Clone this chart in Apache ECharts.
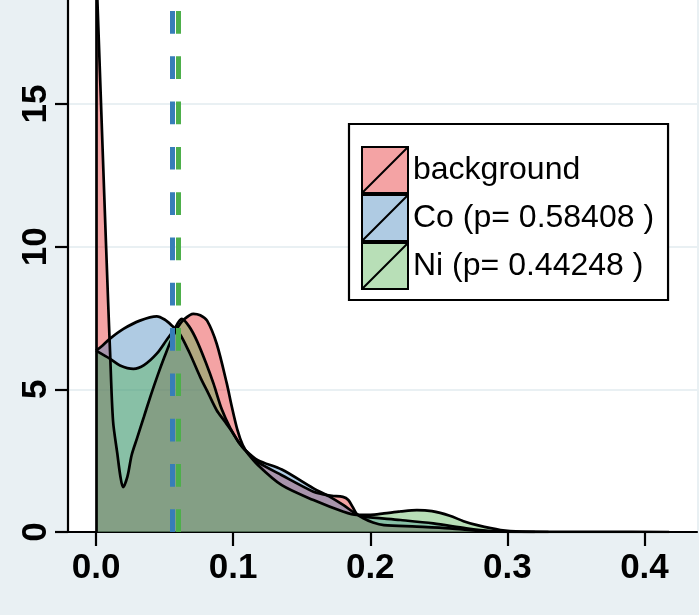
<!DOCTYPE html>
<html><head><meta charset="utf-8">
<script src="https://cdn.jsdelivr.net/npm/echarts@6/dist/echarts.min.js"></script>
<style>html,body{margin:0;padding:0;background:#E9F0F3;} #c{width:699px;height:615px;}</style>
</head><body><div id="c"></div>
<script>
// ---- data ----
const seriesNames = ['background', 'Co (p= 0.58408 )', 'Ni (p= 0.44248 )'];

const bgX = [0, 0.003, 0.006, 0.0088, 0.0102, 0.0124, 0.0155, 0.0178, 0.0197, 0.0229, 0.026, 0.03, 0.035, 0.04, 0.045, 0.05, 0.055, 0.06, 0.064, 0.071, 0.076, 0.081, 0.088, 0.0954, 0.099, 0.103, 0.107, 0.111, 0.118, 0.1355, 0.1586, 0.165, 0.172, 0.18, 0.184, 0.1875, 0.19, 0.195, 0.202, 0.21, 0.234, 0.258, 0.282, 0.3, 0.33, 0.37, 0.418];
const bgY = [20.0, 15.9, 11.8, 8.1, 6.36, 3.9, 2.76, 1.94, 1.57, 1.94, 2.7, 3.3, 4.05, 4.8, 5.5, 6.15, 6.75, 7.2, 7.45, 7.65, 7.6, 7.41, 6.6, 5.2, 4.4, 3.6, 3.05, 2.75, 2.45, 1.99, 1.41, 1.33, 1.27, 1.23, 1.12, 0.85, 0.64, 0.48, 0.33, 0.24, 0.19, 0.13, 0.03, 0.01, 0.004, 0.002, 0];

const coX = [0, 0.005, 0.0102, 0.02, 0.032, 0.0443, 0.05, 0.0552, 0.061, 0.068, 0.076, 0.082, 0.088, 0.0935, 0.0985, 0.104, 0.109, 0.118, 0.1355, 0.1586, 0.17, 0.1805, 0.19, 0.195, 0.222, 0.246, 0.27, 0.288, 0.3, 0.32];
const coY = [6.36, 6.55, 6.78, 7.12, 7.41, 7.56, 7.45, 7.24, 6.95, 6.3, 5.43, 4.85, 4.27, 3.9, 3.57, 3.15, 2.87, 2.52, 2.19, 1.53, 1.25, 0.94, 0.62, 0.54, 0.42, 0.30, 0.13, 0.03, 0.005, 0];

const niX = [0, 0.005, 0.01, 0.0175, 0.0273, 0.035, 0.0443, 0.0516, 0.0565, 0.0625, 0.068, 0.0735, 0.08, 0.0857, 0.0917, 0.098, 0.104, 0.109, 0.118, 0.1355, 0.1586, 0.1805, 0.19, 0.2, 0.21, 0.222, 0.234, 0.245, 0.258, 0.268, 0.278, 0.295, 0.31, 0.33];
const niY = [6.36, 6.22, 6.08, 5.84, 5.72, 5.85, 6.25, 6.74, 7.06, 7.47, 7.2, 6.71, 5.95, 5.2, 4.3, 3.63, 3.15, 2.85, 2.35, 1.64, 1.12, 0.71, 0.6, 0.6, 0.65, 0.72, 0.77, 0.73, 0.57, 0.38, 0.24, 0.07, 0.01, 0];

const meanCo = 0.0558;
const meanNi = 0.0598;

const xTicks = [0, 0.1, 0.2, 0.3, 0.4];
const yTicks = [0, 5, 10, 15];
const xMin = -0.02044, xMax = 0.4383;
const yMax = 18.65;

// ---- styling ----
const baseColors = ['#E41A1C', '#377EB8', '#4DAF4A'];
const fillAlpha = ['rgba(228,26,28,0.4)', 'rgba(55,126,184,0.4)', 'rgba(77,175,74,0.4)'];
const FONT = '"Liberation Sans", Arial, sans-serif';

function pairs(xs, ys) { return xs.map((x, i) => [x, ys[i]]); }

function mkSeries(i, xs, ys, extraMark) {
  return {
    type: 'line', name: seriesNames[i], data: pairs(xs, ys),
    symbol: 'none', showSymbol: false, smooth: 0.3, clip: true, silent: true,
    lineStyle: { color: '#000', width: 2.7 },
    itemStyle: { color: baseColors[i] },
    areaStyle: { color: fillAlpha[i], opacity: 1, origin: 'start' },
    markLine: {
      silent: true, symbol: ['none', 'none'], label: { show: false }, animation: false,
      data: extraMark
    }
  };
}

const chart = echarts.init(document.getElementById('c'), null, { renderer: 'canvas' });
chart.setOption({
  animation: false,
  backgroundColor: '#E9F0F3',
  grid: { left: 68, right: 2, top: 0, bottom: 83, show: true, backgroundColor: '#fff', borderWidth: 0 },
  xAxis: {
    type: 'value', min: xMin, max: xMax,
    axisLine: { show: true, onZero: false, lineStyle: { color: '#000', width: 2.2 } },
    axisTick: { show: true, customValues: xTicks, length: 14, lineStyle: { color: '#000', width: 2.2 } },
    axisLabel: { customValues: xTicks, formatter: v => v.toFixed(1), color: '#000', fontSize: 35, fontWeight: 'bold', fontFamily: FONT, margin: 19 },
    splitLine: { show: false }
  },
  yAxis: {
    type: 'value', min: 0, max: yMax, interval: 5,
    axisLine: { show: true, onZero: false, lineStyle: { color: '#000', width: 2.2 } },
    axisTick: { show: true, customValues: yTicks, length: 13, lineStyle: { color: '#000', width: 2.2 } },
    axisLabel: { customValues: yTicks, rotate: 90, color: '#000', fontSize: 35, fontWeight: 'bold', fontFamily: FONT, margin: 14 },
    splitLine: { show: true, lineStyle: { color: '#E9F0F3', width: 2 } }
  },
  legend: {
    orient: 'vertical', left: 349, top: 124, padding: [22, 14, 10, 12],
    itemGap: 0, itemWidth: 46, itemHeight: 46,
    backgroundColor: '#fff', borderColor: '#000', borderWidth: 2.2, borderRadius: 0,
    selectedMode: false,
    textStyle: { fontSize: 32, color: '#000', fontFamily: FONT },
    data: seriesNames.map((n, i) => ({
      name: n, icon: 'path://M0,0L10,0L10,10L0,10ZM0,10L10,0',
      itemStyle: { color: fillAlpha[i], borderColor: '#000', borderWidth: 2 }
    }))
  },
  series: [
    mkSeries(0, bgX, bgY, [
      [{ coord: [0, 0], lineStyle: { color: '#000', width: 2.7, type: 'solid' } }, { coord: [0, Math.min(bgY[0], yMax)] }]
    ]),
    mkSeries(1, coX, coY, [
      [{ coord: [meanCo, 0], lineStyle: { color: baseColors[1], width: 5, type: [22.7, 22.6] } }, { coord: [meanCo, yMax] }]
    ]),
    mkSeries(2, niX, niY, [
      [{ coord: [meanNi, 0], lineStyle: { color: baseColors[2], width: 5, type: [22.7, 22.6] } }, { coord: [meanNi, yMax] }]
    ])
  ]
});
</script></body></html>
